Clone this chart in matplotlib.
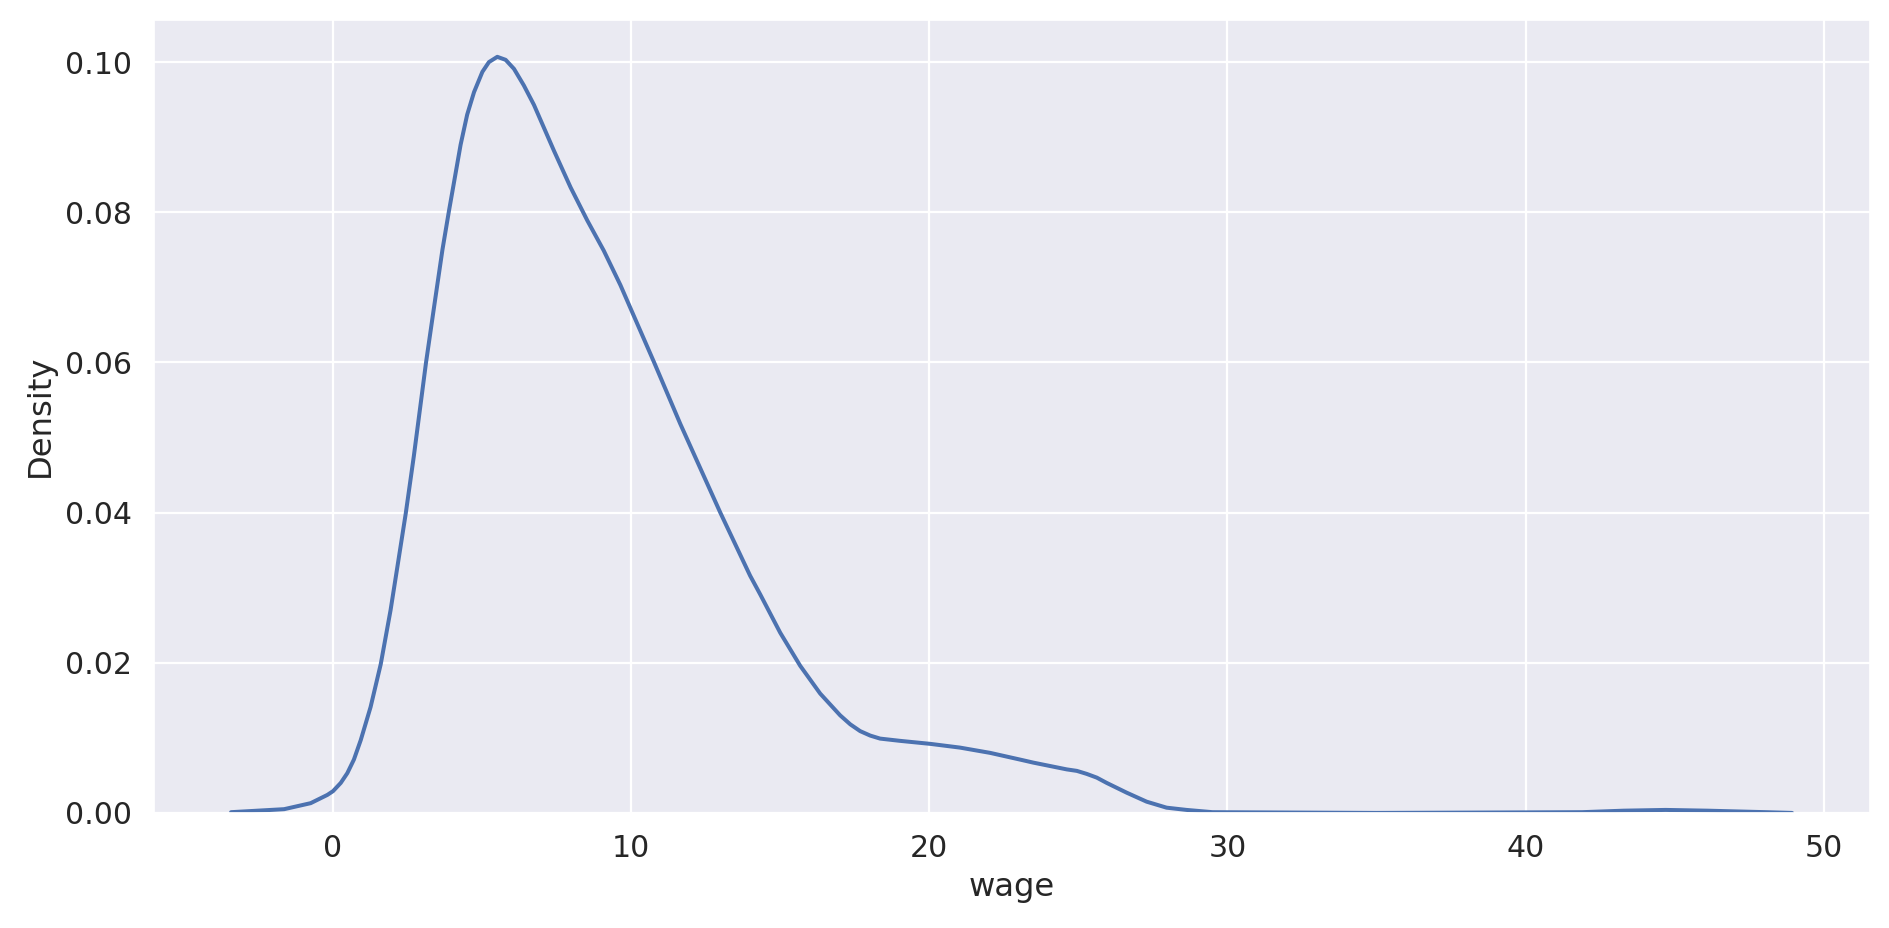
import matplotlib
matplotlib.use("Agg")
import matplotlib.pyplot as plt
import seaborn as sns

# kde curve of wage
wage = [
    -3.42, -1.64, -0.75, -0.19, 0.0, 0.26, 0.48, 0.70, 0.93, 1.26,
    1.60, 1.93, 2.16, 2.44, 2.71, 2.94, 3.12, 3.39, 3.67, 3.89, 4.05,
    4.28, 4.50, 4.73, 5.01, 5.23, 5.51, 5.79, 6.07, 6.40, 6.74, 7.41,
    7.97, 8.53, 9.08, 9.64, 9.98, 10.76, 11.65, 12.32, 12.99, 13.99,
    14.33, 15.0, 15.67, 16.34, 17.01, 17.35, 17.68, 18.02, 18.35, 19.02,
    20.03, 21.03, 22.04, 23.05, 23.49, 24.61, 24.95, 25.28, 25.62, 25.95,
    26.62, 27.29, 27.96, 28.63, 29.5, 35.0, 41.9, 43.3, 44.7, 46.1,
    48.07, 48.94,
]
density = [
    0.0001, 0.0005, 0.0013, 0.0024, 0.0029, 0.0040, 0.0053, 0.0071, 0.0097,
    0.0141, 0.0198, 0.0270, 0.0328, 0.0399, 0.0475, 0.0545, 0.0600, 0.0674,
    0.0750, 0.0802, 0.0838, 0.0890, 0.0930, 0.0960, 0.0987, 0.1000, 0.1007,
    0.1003, 0.0991, 0.0969, 0.0943, 0.0882, 0.0833, 0.0789, 0.0749, 0.0703,
    0.0672, 0.0601, 0.0518, 0.0459, 0.0400, 0.0316, 0.0291, 0.0240, 0.0196,
    0.0159, 0.0130, 0.0118, 0.0109, 0.0103, 0.0099, 0.0096, 0.0092, 0.0087,
    0.0080, 0.0071, 0.0067, 0.0058, 0.0056, 0.0052, 0.0047, 0.0040, 0.0027,
    0.0015, 0.0007, 0.0004, 0.0001, 0.0000, 0.0001, 0.0003, 0.0004, 0.0003,
    0.0001, 0.0000,
]

sns.set_theme()

fig, ax = plt.subplots(figsize=(1889 / 160, 928 / 160), dpi=160)
fig.subplots_adjust(left=0.081, right=0.990, top=0.9795, bottom=0.124)

ax.plot(wage, density, color="#4c72b0", lw=1.8)
ax.set_ylim(0, None)
ax.set_xlabel("wage", fontsize=14.5)
ax.set_ylabel("Density", fontsize=14.5)
ax.tick_params(labelsize=13.5)

fig.savefig("out.png", dpi=160)
